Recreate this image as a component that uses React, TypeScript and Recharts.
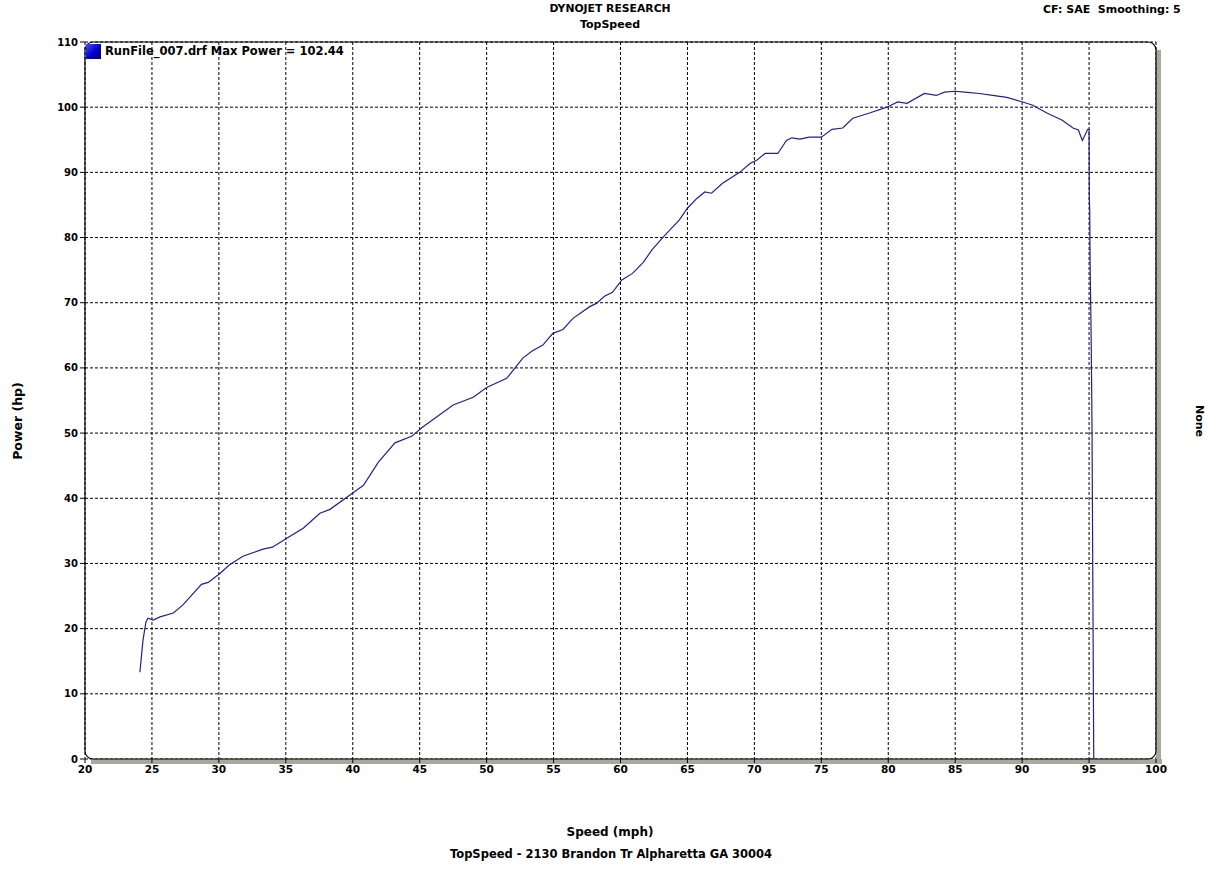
import { LineChart, Line, XAxis, YAxis, CartesianGrid, ReferenceArea } from "recharts";

// dyno run
const speedMph = [
  24.1, 24.33, 24.55, 24.7, 25.1, 25.6, 26.6, 27.3, 28.7, 29.2, 30.1, 30.8, 31.8, 33.3, 34.0, 35.1,
  36.3, 37.55, 38.3, 40.0, 40.8, 41.4, 41.9, 43.15, 44.4, 45.2, 47.5, 49.0, 50.0, 51.5, 52.7, 53.4,
  54.2, 54.95, 55.7, 56.45, 57.7, 58.2, 58.8, 59.4, 60.1, 60.9, 61.7, 62.35, 63.2, 63.8, 64.4, 65.0,
  65.7, 66.3, 66.8, 67.6, 68.9, 69.7, 70.2, 70.8, 71.75, 72.4, 72.8, 73.4, 74.1, 75.0, 75.8, 76.6,
  77.35, 78.6, 79.9, 80.7, 81.4, 82.7, 83.6, 84.2, 85.0, 85.7, 86.8, 87.8, 88.85, 90.05, 90.8, 91.85,
  93.0, 93.8, 94.2, 94.5, 94.9, 95.0, 95.02, 95.05, 95.08, 95.15, 95.22, 95.35,
];
const powerHp = [
  13.3, 18.2, 21.0, 21.6, 21.3, 21.8, 22.4, 23.6, 26.8, 27.1, 28.5, 29.8, 31.1, 32.2, 32.5, 33.9,
  35.4, 37.7, 38.3, 40.8, 42.0, 43.9, 45.5, 48.5, 49.5, 50.9, 54.3, 55.5, 57.0, 58.4, 61.5, 62.6,
  63.5, 65.3, 65.9, 67.6, 69.4, 69.9, 71.0, 71.6, 73.5, 74.5, 76.2, 78.1, 80.1, 81.4, 82.7, 84.5,
  86.0, 87.0, 86.8, 88.3, 90.0, 91.4, 91.9, 92.9, 92.9, 94.9, 95.3, 95.1, 95.4, 95.4, 96.6, 96.8,
  98.3, 99.1, 100.0, 100.8, 100.6, 102.1, 101.8, 102.3, 102.44, 102.3, 102.1, 101.8, 101.5, 100.8, 100.3, 99.1,
  98.0, 96.8, 96.5, 94.9, 96.6, 96.6, 86.0, 84.0, 75.5, 66.0, 51.0, 0,
];

const speedTicks = [20, 25, 30, 35, 40, 45, 50, 55, 60, 65, 70, 75, 80, 85, 90, 95, 100];
const speedMinorTicks = Array.from({ length: 81 }, (_, i) => 20 + i);
const powerTicks = [0, 10, 20, 30, 40, 50, 60, 70, 80, 90, 100, 110];

const data = speedMph.map((speed, i) => ({ speed, power: powerHp[i] }));

const font = "'DejaVu Sans', Verdana, sans-serif";

function PlotFrame(props: any) {
  const { x, y, width, height } = props;
  const s = 5;
  return (
    <g>
      <rect x={x + width} y={y + 8} width={s} height={height - 8 + s} fill="#a9a89e" />
      <rect x={x + 6} y={y + height} width={width} height={s} fill="#a9a89e" />
      <rect x={x} y={y} width={width} height={height} rx={8} ry={8} fill="none" stroke="#000" strokeWidth={1.2} />
    </g>
  );
}

const txt = (extra: any) => ({
  position: "absolute" as const,
  fontFamily: font,
  fontWeight: "bold" as const,
  color: "#000",
  whiteSpace: "pre" as const,
  lineHeight: 1,
  ...extra,
});

export default function App() {
  return (
    <div style={{ position: "absolute", left: 0, top: 0, width: 1222, height: 869, background: "#fff" }}>
      <LineChart width={1222} height={869} data={data} margin={{ top: 42, right: 66, bottom: 80, left: 45 }}>
        <CartesianGrid stroke="#000" strokeDasharray="3 2" strokeWidth={1} xAxisId={0} />
        <XAxis
          xAxisId="minor"
          type="number"
          dataKey="speed"
          domain={[20, 100]}
          ticks={speedMinorTicks}
          interval={0}
          height={0}
          axisLine={false}
          tickSize={4}
          tickLine={{ stroke: "#000" }}
          tick={() => <g />}
        />
        <XAxis
          type="number"
          dataKey="speed"
          domain={[20, 100]}
          ticks={speedTicks}
          interval={0}
          height={30}
          axisLine={false}
          tickSize={4}
          tickMargin={3}
          tickLine={{ stroke: "#000" }}
          tick={{ fill: "#000", fontSize: 10.5, fontFamily: font, fontWeight: "bold" }}
        />
        <YAxis
          type="number"
          domain={[0, 110]}
          ticks={powerTicks}
          interval={0}
          width={40}
          axisLine={false}
          tickSize={5}
          tickMargin={2}
          tickLine={{ stroke: "#000" }}
          tick={{ fill: "#000", fontSize: 10, fontFamily: font, fontWeight: "bold" }}
        />
        <ReferenceArea x1={20} x2={100} y1={0} y2={110} shape={PlotFrame} />
        <Line
          type="linear"
          dataKey="power"
          stroke="#22228a"
          strokeWidth={1.2}
          dot={false}
          isAnimationActive={false}
        />
      </LineChart>

      <div style={txt({ left: 610, top: 4, fontSize: 10.8, transform: "translateX(-50%)" })}>DYNOJET RESEARCH</div>
      <div style={txt({ left: 610, top: 19, fontSize: 11, transform: "translateX(-50%)" })}>TopSpeed</div>
      <div style={txt({ left: 1043, top: 4, fontSize: 11 })}>CF: SAE  Smoothing: 5</div>

      <div
        style={{
          position: "absolute",
          left: 86,
          top: 44,
          width: 15,
          height: 15,
          background: "linear-gradient(135deg, #4a4aff 0%, #0000c8 55%, #00008a 100%)",
        }}
      />
      <div style={txt({ left: 105, top: 46, fontSize: 11.5 })}>RunFile_007.drf Max Power = 102.44</div>

      <div style={txt({ left: 18, top: 421, fontSize: 12.5, transform: "translate(-50%, -50%) rotate(-90deg)" })}>
        Power (hp)
      </div>
      <div style={txt({ left: 1199, top: 421, fontSize: 11, transform: "translate(-50%, -50%) rotate(90deg)" })}>
        None
      </div>
      <div style={txt({ left: 610, top: 826, fontSize: 12, transform: "translateX(-50%)" })}>Speed (mph)</div>
      <div style={txt({ left: 611, top: 849, fontSize: 11.5, transform: "translateX(-50%)" })}>
        TopSpeed - 2130 Brandon Tr Alpharetta GA 30004
      </div>
    </div>
  );
}
